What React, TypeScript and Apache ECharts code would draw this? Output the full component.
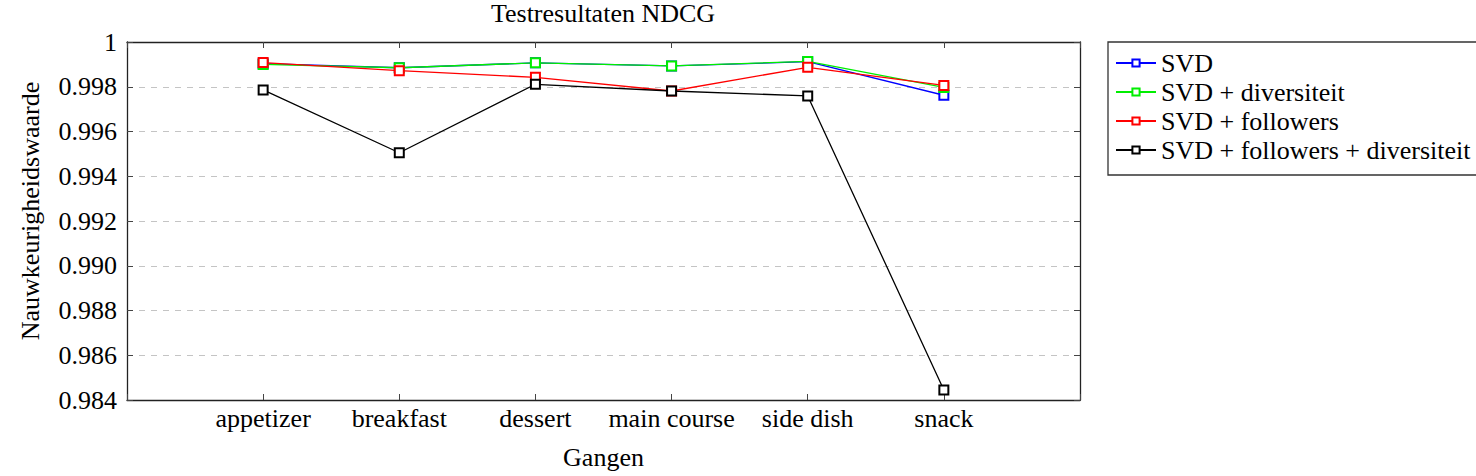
import React, { useEffect, useRef } from "react";
import * as echarts from "echarts";

const categories = ["appetizer", "breakfast", "dessert", "main course", "side dish", "snack"];
const svd = [0.99903, 0.99885, 0.99907, 0.99893, 0.99912, 0.99762];
const svdDiversiteit = [0.999, 0.99885, 0.99907, 0.99893, 0.99913, 0.99797];
const svdFollowers = [0.99908, 0.99872, 0.99842, 0.99781, 0.99887, 0.99806];
const svdFollowersDiversiteit = [0.99786, 0.99505, 0.99811, 0.99781, 0.99759, 0.98445];

const seriesNames = ["SVD", "SVD + diversiteit", "SVD + followers", "SVD + followers + diversiteit"];
const seriesColors = ["#0000ff", "#00ee00", "#ff0000", "#000000"];
const seriesValues = [svd, svdDiversiteit, svdFollowers, svdFollowersDiversiteit];

const FONT = "Liberation Serif";
const FS = 26;

export default function App() {
  const ref = useRef<HTMLDivElement>(null);
  useEffect(() => {
    if (!ref.current) return;
    const chart = echarts.init(ref.current, null, { renderer: "svg" });
    const frame = { show: true, onZero: false, lineStyle: { color: "#222", width: 1.3 } };
    const tick = { show: true, inside: true, length: 6, lineStyle: { color: "#444", width: 1 } };
    chart.setOption({
      animation: false,
      backgroundColor: "#fff",
      textStyle: { fontFamily: FONT },
      title: {
        text: "Testresultaten NDCG",
        left: 603,
        top: 0,
        padding: 0,
        textAlign: "center",
        textStyle: { fontFamily: FONT, fontSize: FS, fontWeight: "normal", color: "#000" },
      },
      graphic: [
        {
          type: "rect",
          z: -1,
          silent: true,
          shape: { x: 1108, y: 42, width: 420, height: 133 },
          style: { fill: "#fff", stroke: "#333", lineWidth: 1.3 },
        },
      ],
      legend: {
        orient: "vertical",
        left: 1108,
        top: 42,
        padding: [8, 10, 8, 7],
        itemGap: 3,
        itemWidth: 40,
        itemHeight: 9,
        borderWidth: 0,
        data: seriesNames,
        textStyle: { fontFamily: FONT, fontSize: FS, color: "#000" },
      },
      grid: { left: 127, right: 396, top: 42, bottom: 76, containLabel: false },
      xAxis: [
        {
          type: "value",
          min: -1,
          max: 6,
          interval: 1,
          position: "bottom",
          name: "Gangen",
          nameLocation: "middle",
          nameGap: 44,
          nameTextStyle: { fontFamily: FONT, fontSize: FS, color: "#000" },
          axisLine: frame,
          axisTick: tick,
          splitLine: { show: false },
          axisLabel: {
            margin: 5,
            fontFamily: FONT,
            fontSize: FS,
            color: "#000",
            showMinLabel: true,
            showMaxLabel: true,
            formatter: (v: number) => categories[Math.round(v)] ?? "",
          },
        },
        {
          type: "value",
          min: -1,
          max: 6,
          interval: 1,
          position: "top",
          axisLine: frame,
          axisTick: tick,
          splitLine: { show: false },
          axisLabel: { show: false },
        },
      ],
      yAxis: [
        {
          type: "value",
          min: 0.984,
          max: 1,
          interval: 0.002,
          position: "left",
          name: "Nauwkeurigheidswaarde",
          nameLocation: "middle",
          nameGap: 84,
          nameTextStyle: { fontFamily: FONT, fontSize: FS, color: "#000", padding: [0, 0, 0, 20] },
          axisLine: frame,
          axisTick: tick,
          splitLine: { show: true, lineStyle: { color: "#c4c4c4", type: [6, 6], width: 1 } },
          axisLabel: {
            margin: 10,
            fontFamily: FONT,
            fontSize: FS,
            color: "#000",
            formatter: (v: number) => (Math.abs(v - 1) < 1e-9 ? "1" : v.toFixed(3)),
          },
        },
        {
          type: "value",
          min: 0.984,
          max: 1,
          interval: 0.002,
          position: "right",
          axisLine: frame,
          axisTick: tick,
          splitLine: { show: false },
          axisLabel: { show: false },
        },
      ],
      series: seriesValues.map((vals, si) => ({
        name: seriesNames[si],
        type: "line",
        xAxisIndex: 0,
        yAxisIndex: 0,
        symbol: "emptyRect",
        symbolSize: 9,
        showAllSymbol: true,
        color: seriesColors[si],
        lineStyle: { color: seriesColors[si], width: 1.3 },
        itemStyle: { color: seriesColors[si], borderColor: seriesColors[si], borderWidth: 1.3 },
        z: 2 + si,
        data: vals.map((v, i) => [i, v]),
      })),
    });
    return () => chart.dispose();
  }, []);
  return (
    <div
      ref={ref}
      style={{ position: "fixed", left: 0, top: 0, width: 1476, height: 476, background: "#fff" }}
    />
  );
}
